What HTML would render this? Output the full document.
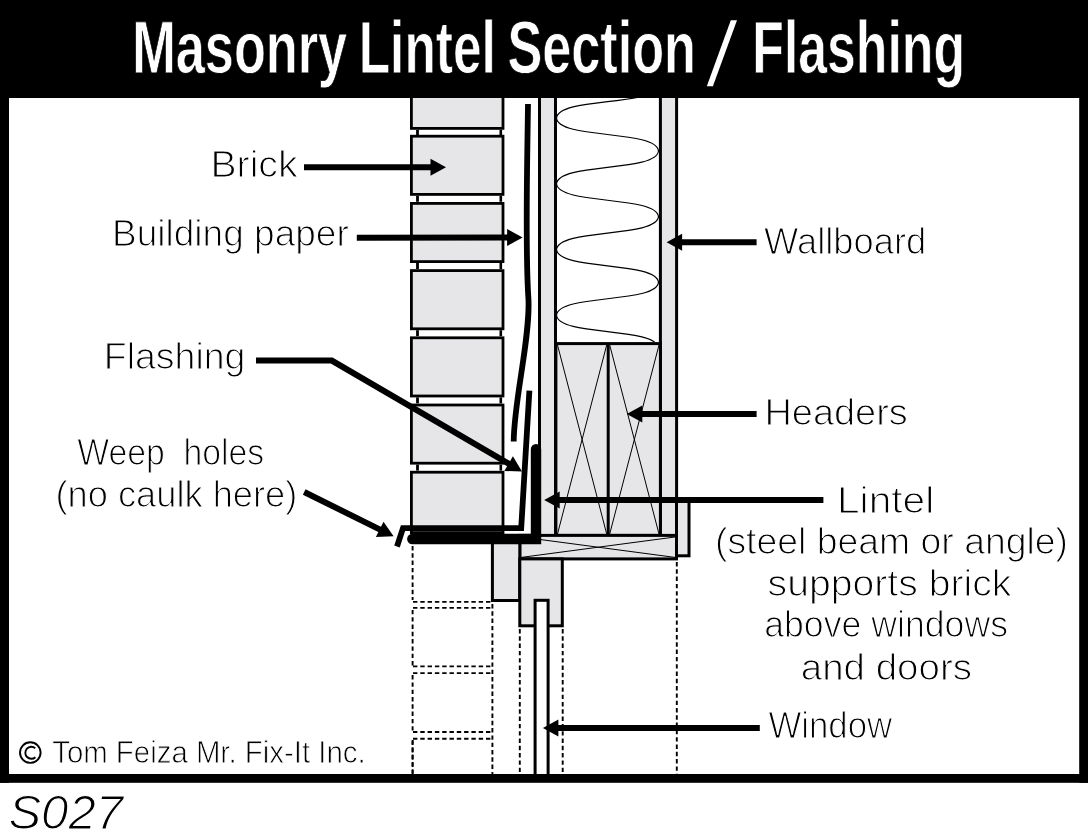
<!DOCTYPE html>
<html><head><meta charset="utf-8"><style>
html,body{margin:0;padding:0;background:#fff;width:1088px;height:830px;overflow:hidden}
svg{display:block;will-change:transform}
text{font-family:"Liberation Sans",sans-serif;fill:#000}
.lb{stroke:#fff;stroke-width:1.1px}
.lb2{stroke:#fff;stroke-width:0.8px}
.lb3{stroke:#fff;stroke-width:1.2px;font-style:italic}
.ttl{font-weight:bold;fill:#fff;stroke:#000;stroke-width:0.8px}
</style></head><body>
<svg width="1088" height="830" viewBox="0 0 1088 830">
<rect x="0" y="0" width="1088" height="830" fill="#fff"/>
<clipPath id="frameclip"><rect x="9" y="98" width="1070" height="676"/></clipPath>
<g clip-path="url(#frameclip)">
<rect x="411.4" y="70.20" width="91.60000000000001" height="58.20" fill="#e6e6e8" stroke="#000" stroke-width="2.8"/>
<line x1="417.5" y1="129.80" x2="417.5" y2="135.80" stroke="#000" stroke-width="2.8"/>
<line x1="500.8" y1="129.80" x2="500.8" y2="135.80" stroke="#000" stroke-width="2.6"/>
<rect x="411.4" y="136.20" width="91.60000000000001" height="58.20" fill="#e6e6e8" stroke="#000" stroke-width="2.8"/>
<line x1="417.5" y1="195.80" x2="417.5" y2="201.80" stroke="#000" stroke-width="2.8"/>
<line x1="500.8" y1="195.80" x2="500.8" y2="201.80" stroke="#000" stroke-width="2.6"/>
<rect x="411.4" y="203.40" width="91.60000000000001" height="58.20" fill="#e6e6e8" stroke="#000" stroke-width="2.8"/>
<line x1="417.5" y1="263.00" x2="417.5" y2="269.00" stroke="#000" stroke-width="2.8"/>
<line x1="500.8" y1="263.00" x2="500.8" y2="269.00" stroke="#000" stroke-width="2.6"/>
<rect x="411.4" y="270.60" width="91.60000000000001" height="58.20" fill="#e6e6e8" stroke="#000" stroke-width="2.8"/>
<line x1="417.5" y1="330.20" x2="417.5" y2="336.20" stroke="#000" stroke-width="2.8"/>
<line x1="500.8" y1="330.20" x2="500.8" y2="336.20" stroke="#000" stroke-width="2.6"/>
<rect x="411.4" y="337.80" width="91.60000000000001" height="58.20" fill="#e6e6e8" stroke="#000" stroke-width="2.8"/>
<line x1="417.5" y1="397.40" x2="417.5" y2="403.40" stroke="#000" stroke-width="2.8"/>
<line x1="500.8" y1="397.40" x2="500.8" y2="403.40" stroke="#000" stroke-width="2.6"/>
<rect x="411.4" y="405.00" width="91.60000000000001" height="58.20" fill="#e6e6e8" stroke="#000" stroke-width="2.8"/>
<line x1="417.5" y1="464.60" x2="417.5" y2="470.60" stroke="#000" stroke-width="2.8"/>
<line x1="500.8" y1="464.60" x2="500.8" y2="470.60" stroke="#000" stroke-width="2.6"/>
<rect x="411.4" y="472.20" width="91.60000000000001" height="60.40" fill="#e6e6e8" stroke="#000" stroke-width="2.8"/>
<line x1="412.6" y1="546" x2="412.6" y2="600" stroke="#000" stroke-width="1.9" stroke-dasharray="4.4 2.9" fill="none"/>
<line x1="413" y1="601.9" x2="491" y2="601.9" stroke="#000" stroke-width="1.9" stroke-dasharray="4.4 2.9" fill="none"/>
<line x1="413" y1="607.9" x2="491" y2="607.9" stroke="#000" stroke-width="1.9" stroke-dasharray="4.4 2.9" fill="none"/>
<line x1="412.6" y1="609.9" x2="412.6" y2="665.9" stroke="#000" stroke-width="1.9" stroke-dasharray="4.4 2.9" fill="none"/>
<line x1="413" y1="666.4" x2="491" y2="666.4" stroke="#000" stroke-width="1.9" stroke-dasharray="4.4 2.9" fill="none"/>
<line x1="413" y1="673.1" x2="491" y2="673.1" stroke="#000" stroke-width="1.9" stroke-dasharray="4.4 2.9" fill="none"/>
<line x1="412.6" y1="675.1" x2="412.6" y2="731.1" stroke="#000" stroke-width="1.9" stroke-dasharray="4.4 2.9" fill="none"/>
<line x1="413" y1="732.0" x2="491" y2="732.0" stroke="#000" stroke-width="1.9" stroke-dasharray="4.4 2.9" fill="none"/>
<line x1="413" y1="738.7" x2="491" y2="738.7" stroke="#000" stroke-width="1.9" stroke-dasharray="4.4 2.9" fill="none"/>
<line x1="412.6" y1="740.7" x2="412.6" y2="796.7" stroke="#000" stroke-width="1.9" stroke-dasharray="4.4 2.9" fill="none"/>
<line x1="412.6" y1="740" x2="412.6" y2="774" stroke="#000" stroke-width="1.9" stroke-dasharray="4.4 2.9" fill="none"/>
<line x1="492.4" y1="604" x2="492.4" y2="774" stroke="#000" stroke-width="1.9" stroke-dasharray="4.4 2.9" fill="none"/>
<line x1="519.8" y1="629" x2="519.8" y2="774" stroke="#000" stroke-width="1.9" stroke-dasharray="4.4 2.9" fill="none"/>
<line x1="562.7" y1="629" x2="562.7" y2="774" stroke="#000" stroke-width="1.9" stroke-dasharray="4.4 2.9" fill="none"/>
<line x1="676.8" y1="562" x2="676.8" y2="774" stroke="#000" stroke-width="1.9" stroke-dasharray="4.4 2.9" fill="none"/>
<rect x="539.5" y="90" width="16" height="447" fill="#e6e6e8" stroke="#000" stroke-width="3"/>
<rect x="660.4" y="90" width="16.2" height="447" fill="#e6e6e8" stroke="#000" stroke-width="3"/>
<rect x="676.5" y="501" width="12.5" height="54.8" fill="#e6e6e8" stroke="#000" stroke-width="3"/>
<clipPath id="insclip"><rect x="550" y="98" width="115" height="244"/></clipPath>
<path d="M 658.5 85.25 C 656.0 106.75, 559.0 96.60, 556.5 118.10 C 559.0 139.60, 656.0 129.45, 658.5 150.95 C 656.0 172.45, 559.0 162.30, 556.5 183.80 C 559.0 205.30, 656.0 195.15, 658.5 216.65 C 656.0 238.15, 559.0 228.00, 556.5 249.50 C 559.0 271.00, 656.0 260.85, 658.5 282.35 C 656.0 303.85, 559.0 293.70, 556.5 315.20 C 559.0 336.70, 656.0 326.55, 658.5 348.05 C 656.0 369.55, 559.0 359.40, 556.5 380.90" fill="none" stroke="#000" stroke-width="1.2" clip-path="url(#insclip)"/>
<rect x="555.9" y="343.6" width="104.5" height="191.8" fill="#e6e6e8" stroke="#000" stroke-width="3"/>
<line x1="608.2" y1="343" x2="608.2" y2="536" stroke="#000" stroke-width="3"/>
<line x1="557.5" y1="345" x2="606.7" y2="534" stroke="#000" stroke-width="1.0"/>
<line x1="606.7" y1="345" x2="557.5" y2="534" stroke="#000" stroke-width="1.0"/>
<line x1="609.7" y1="345" x2="659" y2="534" stroke="#000" stroke-width="1.0"/>
<line x1="659" y1="345" x2="609.7" y2="534" stroke="#000" stroke-width="1.0"/>
<rect x="519.8" y="535.4" width="156.7" height="23.5" fill="#e6e6e8" stroke="#000" stroke-width="3"/>
<line x1="521.3" y1="537" x2="675" y2="557.4" stroke="#000" stroke-width="1.0"/>
<line x1="521.3" y1="557.4" x2="675" y2="537" stroke="#000" stroke-width="1.0"/>
<rect x="492.4" y="540" width="27.4" height="60.5" fill="#e6e6e8" stroke="#000" stroke-width="3"/>
<rect x="519.8" y="558.9" width="42.5" height="66.9" fill="#e6e6e8" stroke="#000" stroke-width="3"/>
<rect x="535.1" y="600.3" width="13" height="200" fill="#fff" stroke="#000" stroke-width="3"/>
<path d="M 528 104 C 527 180, 525 250, 528.5 300 C 530 340, 514 400, 513.7 441.4" fill="none" stroke="#000" stroke-width="5.8"/>
<polyline points="529.4,390.6 521.2,528.2 403,528.2 397,546.5" fill="none" stroke="#000" stroke-width="5.8" stroke-linejoin="miter"/>
<path d="M 536 449.3 L 536 539 L 412.3 539" fill="none" stroke="#000" stroke-width="10.4" stroke-linecap="round" stroke-linejoin="miter"/>
<rect x="531" y="534" width="10" height="10" fill="#000"/>
<polyline points="304.0,167.2 431.5,167.2" fill="none" stroke="#000" stroke-width="6" stroke-linejoin="miter"/>
<polygon points="446.0,167.2 430.5,175.7 430.5,158.7" fill="#000"/>
<polyline points="356.8,237.7 508.1,237.5" fill="none" stroke="#000" stroke-width="6" stroke-linejoin="miter"/>
<polygon points="522.6,237.5 507.1,246.0 507.1,229.0" fill="#000"/>
<polyline points="256.0,360.6 331.8,360.6 509.5,464.2" fill="none" stroke="#000" stroke-width="6" stroke-linejoin="miter"/>
<polygon points="522.0,471.5 504.3,471.0 512.9,456.3" fill="#000"/>
<polyline points="304.2,492.0 380.6,529.9" fill="none" stroke="#000" stroke-width="6" stroke-linejoin="miter"/>
<polygon points="393.6,536.3 375.9,537.0 383.5,521.8" fill="#000"/>
<polyline points="756.6,242.3 681.1,242.3" fill="none" stroke="#000" stroke-width="6" stroke-linejoin="miter"/>
<polygon points="666.6,242.3 682.1,233.8 682.1,250.8" fill="#000"/>
<polyline points="756.6,413.9 641.3,413.9" fill="none" stroke="#000" stroke-width="6" stroke-linejoin="miter"/>
<polygon points="626.8,413.9 642.3,405.4 642.3,422.4" fill="#000"/>
<polyline points="823.4,499.9 558.7,499.9" fill="none" stroke="#000" stroke-width="6" stroke-linejoin="miter"/>
<polygon points="544.2,499.9 559.7,491.4 559.7,508.4" fill="#000"/>
<polyline points="759.8,727.9 557.4,727.9" fill="none" stroke="#000" stroke-width="6" stroke-linejoin="miter"/>
<polygon points="542.9,727.9 558.4,719.4 558.4,736.4" fill="#000"/>
</g>
<rect x="0" y="0" width="1088" height="98" fill="#000"/>
<rect x="0" y="0" width="9" height="782.8" fill="#000"/>
<rect x="1079.2" y="0" width="8.8" height="782.8" fill="#000"/>
<rect x="0" y="774" width="1088" height="8.8" fill="#000"/>
<text class="lb" x="210.40" y="177" font-size="36" textLength="87.20" lengthAdjust="spacingAndGlyphs">Brick</text>
<text class="lb" x="112.00" y="245.6" font-size="36" textLength="236.80" lengthAdjust="spacingAndGlyphs">Building paper</text>
<text class="lb" x="103.80" y="368.5" font-size="36" textLength="141.60" lengthAdjust="spacingAndGlyphs">Flashing</text>
<text class="lb" x="77.20" y="464.6" font-size="36" textLength="187.00" lengthAdjust="spacingAndGlyphs">Weep&#160;&#160;holes</text>
<text class="lb" x="55.40" y="506.5" font-size="36" textLength="242.00" lengthAdjust="spacingAndGlyphs">(no caulk here)</text>
<text class="lb" x="764.00" y="254.4" font-size="36" textLength="162.20" lengthAdjust="spacingAndGlyphs">Wallboard</text>
<text class="lb" x="764.40" y="425.1" font-size="36" textLength="143.40" lengthAdjust="spacingAndGlyphs">Headers</text>
<text class="lb" x="837.00" y="512.7" font-size="36" textLength="97.20" lengthAdjust="spacingAndGlyphs">Lintel</text>
<text class="lb" x="715.00" y="553.6" font-size="36" textLength="353.00" lengthAdjust="spacingAndGlyphs">(steel beam or angle)</text>
<text class="lb" x="767.60" y="596" font-size="36" textLength="243.80" lengthAdjust="spacingAndGlyphs">supports brick</text>
<text class="lb" x="764.20" y="637.2" font-size="36" textLength="243.80" lengthAdjust="spacingAndGlyphs">above windows</text>
<text class="lb" x="800.80" y="679.7" font-size="36" textLength="171.20" lengthAdjust="spacingAndGlyphs">and doors</text>
<text class="lb" x="768.40" y="737.6" font-size="36" textLength="123.80" lengthAdjust="spacingAndGlyphs">Window</text>
<text class="lb2" x="52.20" y="763" font-size="31" textLength="313.50" lengthAdjust="spacingAndGlyphs">Tom Feiza Mr. Fix-It Inc.</text>
<text class="lb3" x="8.40" y="828.8" font-size="48" textLength="114.60" lengthAdjust="spacingAndGlyphs">S027</text>
<text class="ttl" x="132.20" y="73" font-size="75" textLength="215.00" lengthAdjust="spacingAndGlyphs">Masonry</text>
<text class="ttl" x="358.70" y="73" font-size="75" textLength="137.10" lengthAdjust="spacingAndGlyphs">Lintel</text>
<text class="ttl" x="507.40" y="73" font-size="75" textLength="188.60" lengthAdjust="spacingAndGlyphs">Section</text>
<text class="ttl" x="752.30" y="73" font-size="75" textLength="212.70" lengthAdjust="spacingAndGlyphs">Flashing</text>
<polygon points="730.8,20.2 737,20.2 712.9,86.3 706.8,86.3" fill="#fff"/>
<circle cx="30.3" cy="752.6" r="10.3" fill="none" stroke="#000" stroke-width="1.9"/>
<path d="M 35.2 748.2 A 6 6 0 1 0 35.4 757.2" fill="none" stroke="#000" stroke-width="1.9"/>
</svg>
</body></html>
